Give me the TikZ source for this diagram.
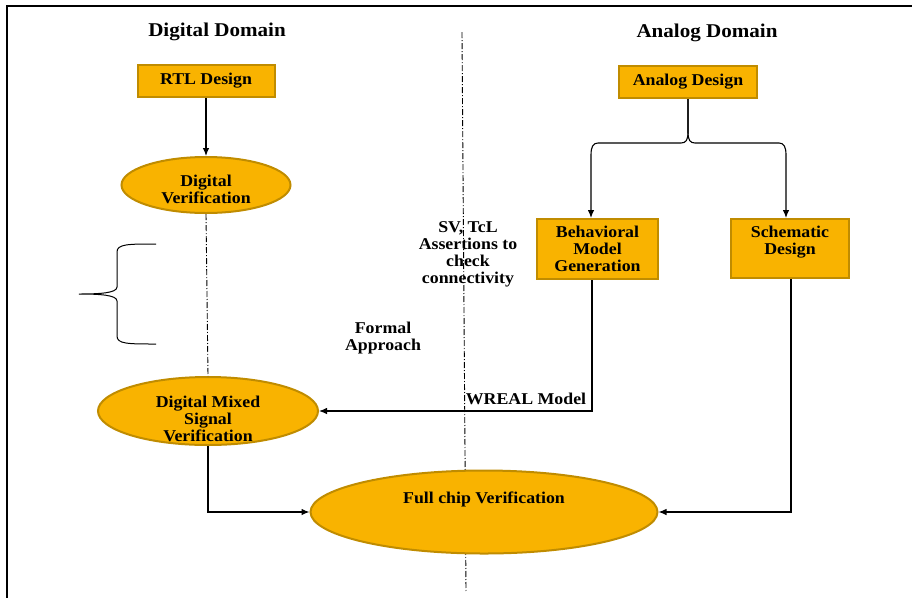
\documentclass[tikz,border=0pt]{standalone}
\usepackage{fontspec}
\setmainfont{Liberation Serif}[FakeStretch=1.08]
\usetikzlibrary{shapes.geometric,arrows.meta,calc}
\definecolor{boxfill}{RGB}{249,179,0}
\definecolor{boxline}{RGB}{192,140,0}
\tikzset{
  txt/.style={font=\fontsize{16.5}{17}\selectfont\bfseries, align=center, inner sep=0pt},
  ttl/.style={font=\fontsize{19.5}{21}\selectfont\bfseries, inner sep=0pt},
  rbox/.style={draw=boxline, fill=boxfill, line width=2pt, rectangle, inner sep=0pt,
    font=\fontsize{16.5}{17}\selectfont\bfseries, align=center},
  ell/.style={draw=boxline, fill=boxfill, line width=2pt, ellipse, inner sep=0pt},
  conn/.style={draw=black, line width=1.1pt},
  arr/.style={conn, -{Latex[length=8pt,width=6.5pt]}},
  dashdot/.style={draw=black, line width=0.9pt, dash pattern=on 6pt off 2pt on 1pt off 2pt},
  frame/.style={draw=black, line width=2pt}
}
\begin{document}
\begin{tikzpicture}[x=1pt,y=-1pt]
\useasboundingbox (0,0) rectangle (912,598);
% frame
\draw[frame] (912,6) -- (7,6) -- (7,598);
% divider
\coordinate (divtop) at (462,32);
\coordinate (divbot) at (466,592);
\draw[dashdot] (divtop) -- (divbot);
% titles
\node[ttl] (tdig) at (217,32) {Digital Domain};
\node[ttl] (tana) at (707,33) {Analog Domain};
% nodes
\node[rbox, minimum width=137pt, minimum height=32pt] (rtl) at (206,81) {RTL Design};
\node[ell, minimum width=169pt, minimum height=56pt] (dv) at (206,185) {};
\node[txt] (dvt) at (206,189) {Digital\\Verification};
\node[ell, minimum width=220pt, minimum height=68pt] (dms) at (208,411) {};
\node[txt] (dmst) at (208,419) {Digital Mixed\\Signal\\Verification};
\node[ell, minimum width=347pt, minimum height=83pt] (fcv) at (484,512) {};
\node[txt] (fcvt) at (484,499) {Full chip Verification};
\node[rbox, minimum width=138pt, minimum height=32pt] (ad) at (688,82) {Analog Design};
\node[rbox, minimum width=121pt, minimum height=60pt] (bmg) at (597.5,249) {Behavioral\\Model\\Generation};
\node[rbox, minimum width=118pt, minimum height=59pt] (sd) at (790,248.5) {Schematic\\Design\\\mbox{}};
% free texts
\node[txt] (sv) at (468,254) {SV, TcL\\Assertions to\\check\\connectivity};
\node[txt] (formal) at (383,338) {Formal\\Approach};
\node[txt, anchor=base] (wreal) at (526,404) {WREAL Model};
% connectors
\draw[arr] (rtl.south) -- (dv.north);
\draw[dashdot] (dv.south) -- (dms.north);
\draw[arr] (ad.south) -- (688,132) .. controls (688,140) and (686,143) .. (681,143)
  -- (598,143) .. controls (593,143) and (591,147) .. (591,155)
  -- ($(bmg.north)+(-6.5,0)$);
\draw[arr] (ad.south) -- (688,132) .. controls (688,140) and (690,143) .. (695,143)
  -- (779,143) .. controls (784,143) and (786,147) .. (786,155)
  -- ($(sd.north)+(-4,0)$);
\draw[arr] ($(bmg.south)+(-5.5,0)$) |- (dms.east);
\draw[arr] ($(sd.south)+(1,0)$) |- (fcv.east);
\draw[arr] (dms.south) |- (fcv.west);
% brace
\draw[conn, line width=1pt] (156,244) .. controls (128,244) and (117,244) .. (117,252)
  -- (117,287) .. controls (117,293) and (100,294) .. (79,294)
  .. controls (100,294) and (117,295) .. (117,301)
  -- (117,336) .. controls (117,344) and (128,344) .. (156,344);
\end{tikzpicture}
\end{document}
